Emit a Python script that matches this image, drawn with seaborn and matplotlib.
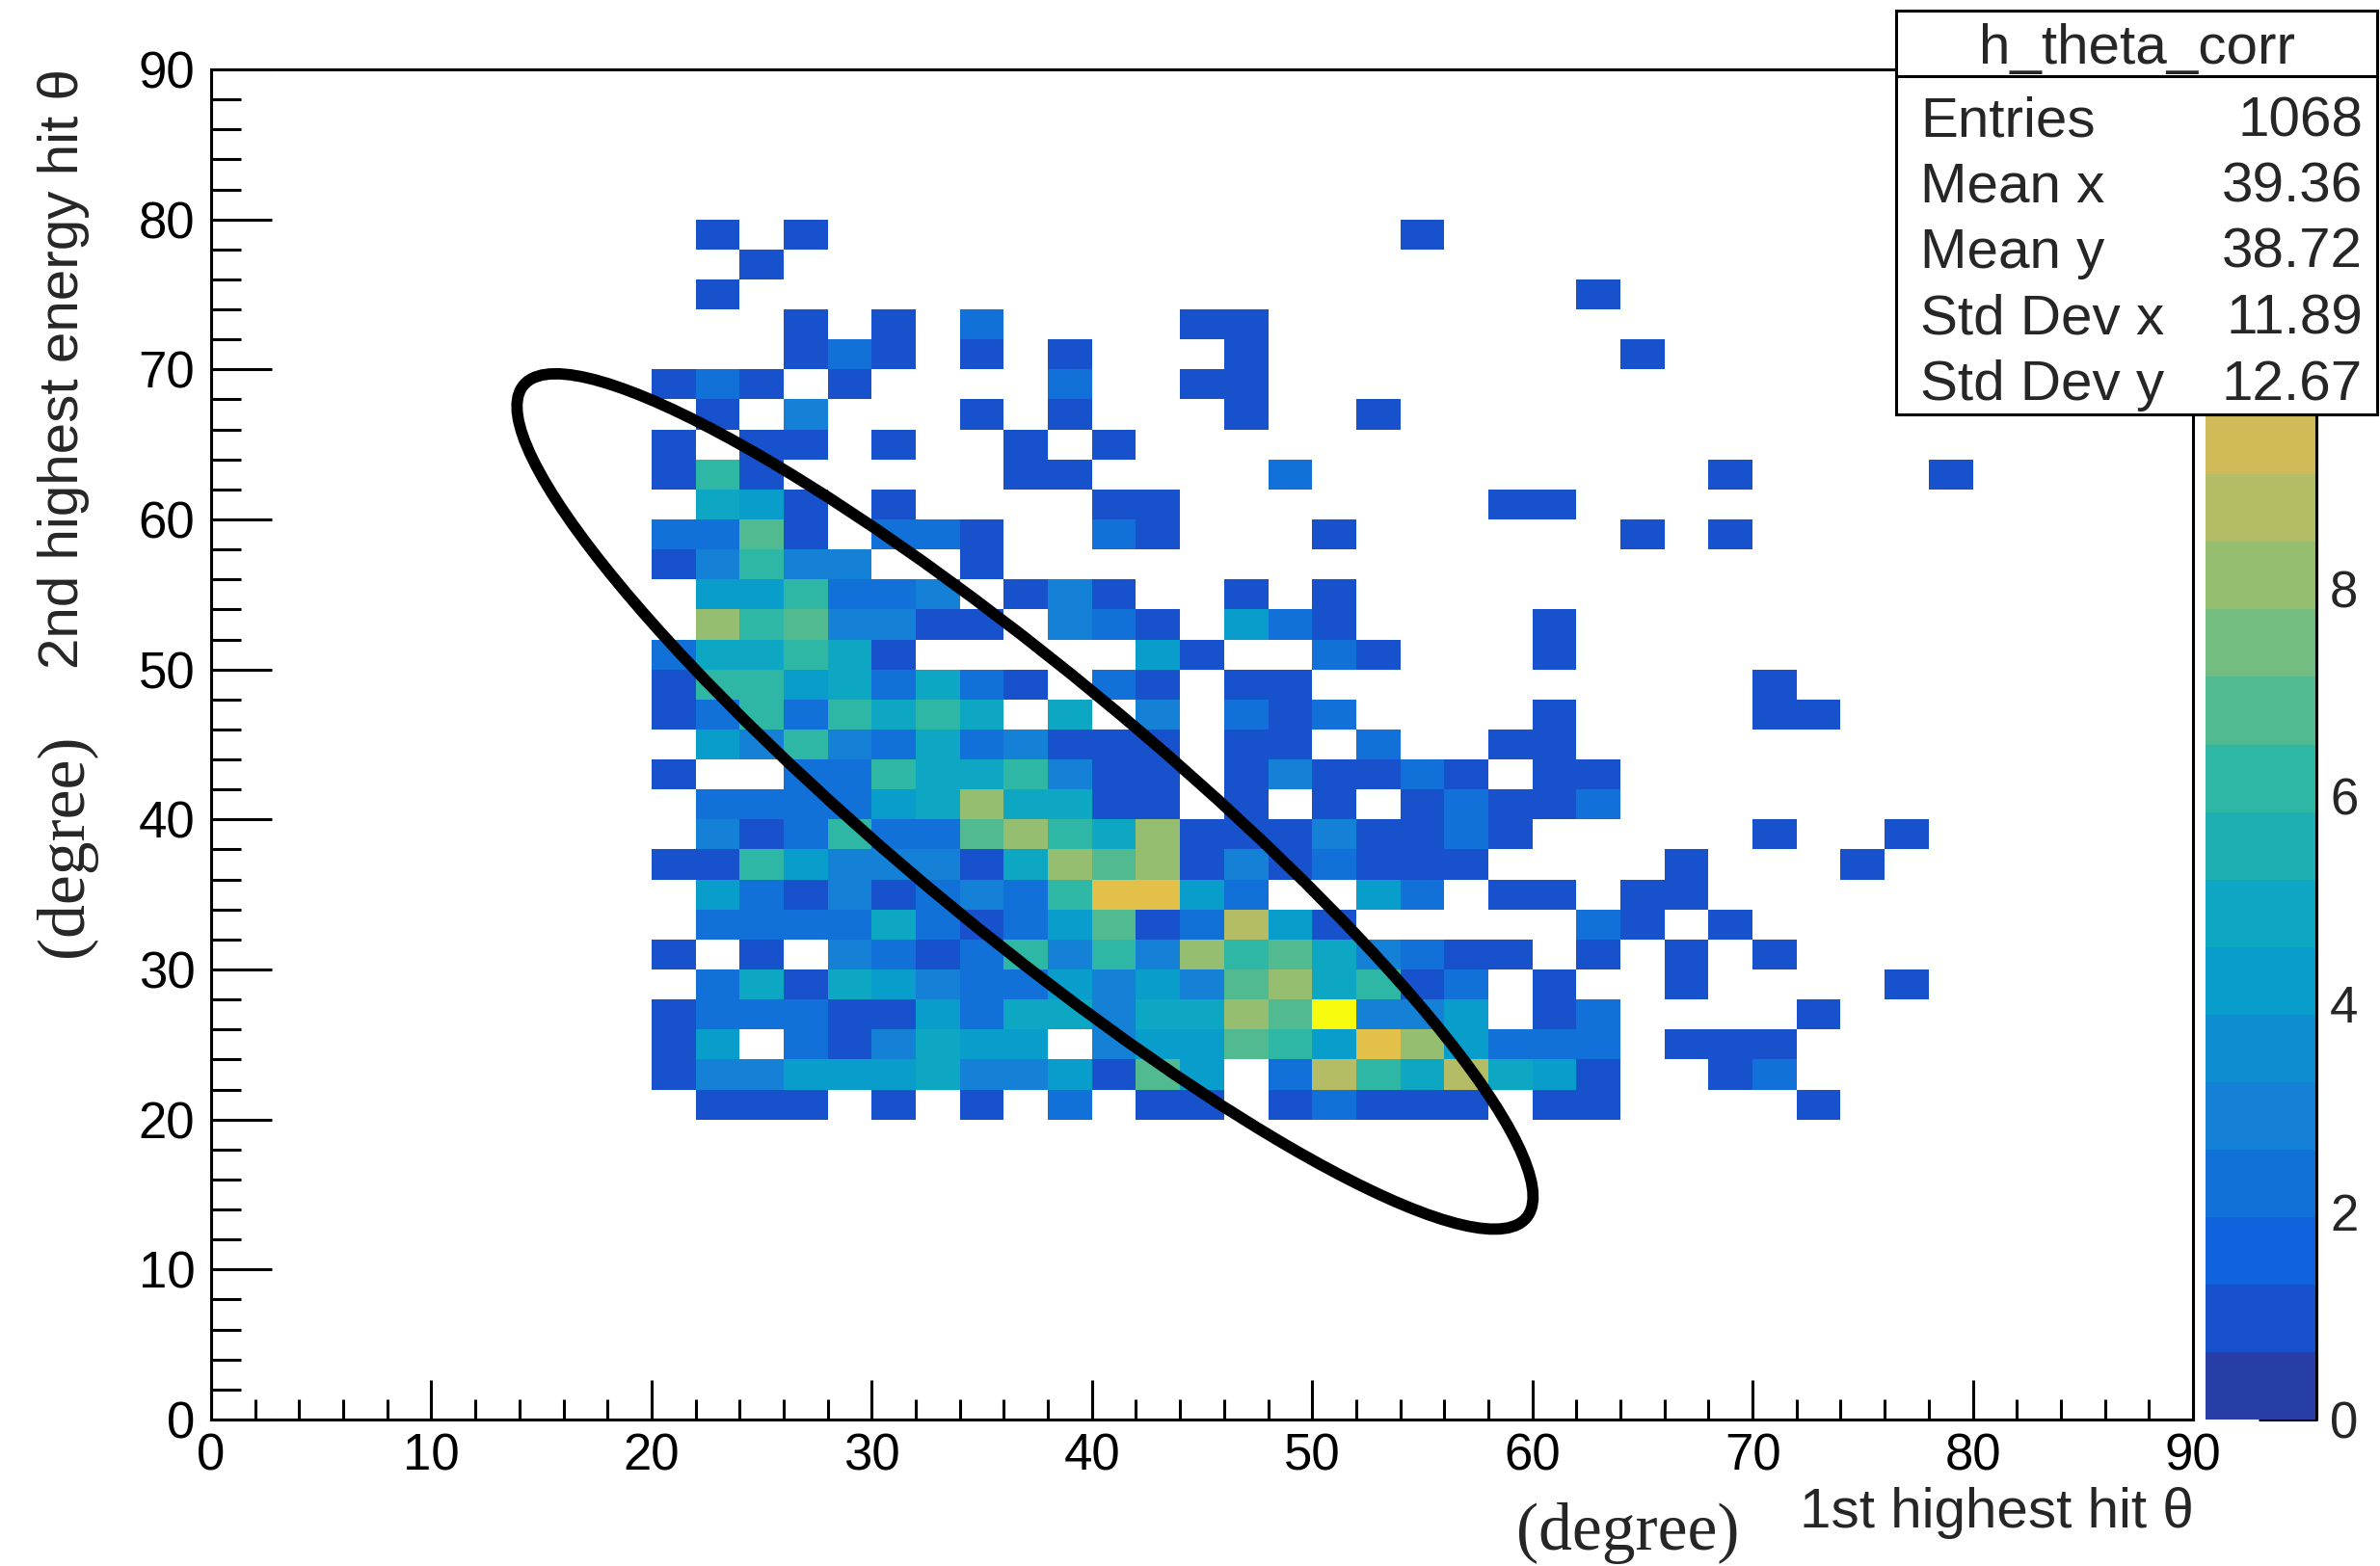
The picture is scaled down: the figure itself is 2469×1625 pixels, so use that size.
import numpy as np
import pandas as pd
import matplotlib
matplotlib.use("Agg")
import matplotlib.pyplot as plt
from matplotlib.colors import ListedColormap
from matplotlib.patches import Ellipse, Rectangle
from matplotlib.lines import Line2D
from matplotlib.ticker import MultipleLocator
from matplotlib.collections import QuadMesh
import seaborn as sns

BIN_WIDTH = 2  # degrees per cell on both axes

# theta2 rows (lower bin edge, deg), the occupied theta1 cells in each row
# (lower bin edge, deg) and the number of entries in those cells
theta2_rows = [78, 76, 74, 72, 70, 68, 66, 64, 62, 60, 58, 56, 54, 52, 50, 48,
               46, 44, 42, 40, 38, 36, 34, 32, 30, 28, 26, 24, 22, 20]
theta1_cells = [
    [22, 26, 54],
    [24],
    [22, 62],
    [26, 30, 34, 44, 46],
    [26, 28, 30, 34, 38, 46, 64],
    [20, 22, 24, 28, 38, 44, 46],
    [22, 26, 34, 38, 46, 52],
    [20, 24, 26, 30, 36, 40],
    [20, 22, 24, 36, 38, 48, 68, 78],
    [22, 24, 26, 30, 40, 42, 58, 60],
    [20, 22, 24, 26, 30, 32, 34, 40, 42, 50, 64, 68],
    [20, 22, 24, 26, 28, 34],
    [22, 24, 26, 28, 30, 32, 36, 38, 40, 46, 50],
    [22, 24, 26, 28, 30, 32, 34, 38, 40, 42, 46, 48, 50, 60],
    [20, 22, 24, 26, 28, 30, 42, 44, 50, 52, 60],
    [20, 22, 24, 26, 28, 30, 32, 34, 36, 40, 42, 46, 48, 70],
    [20, 22, 24, 26, 28, 30, 32, 34, 38, 42, 46, 48, 50, 60, 70, 72],
    [22, 24, 26, 28, 30, 32, 34, 36, 38, 40, 42, 46, 48, 52, 58, 60],
    [20, 26, 28, 30, 32, 34, 36, 38, 40, 42, 46, 48, 50, 52, 54, 56, 60, 62],
    [22, 24, 26, 28, 30, 32, 34, 36, 38, 40, 42, 46, 50, 54, 56, 58, 60, 62],
    [22, 24, 26, 28, 30, 32, 34, 36, 38, 40, 42, 44, 46, 48, 50, 52, 54, 56, 58, 70, 76],
    [20, 22, 24, 26, 28, 30, 32, 34, 36, 38, 40, 42, 44, 46, 48, 50, 52, 54, 56, 66, 74],
    [22, 24, 26, 28, 30, 32, 34, 36, 38, 40, 42, 44, 46, 52, 54, 58, 60, 64, 66],
    [22, 24, 26, 28, 30, 32, 34, 36, 38, 40, 42, 44, 46, 48, 50, 62, 64, 68],
    [20, 24, 28, 30, 32, 34, 36, 38, 40, 42, 44, 46, 48, 50, 52, 54, 56, 58, 62, 66, 70],
    [22, 24, 26, 28, 30, 32, 34, 36, 38, 40, 42, 44, 46, 48, 50, 52, 54, 56, 60, 66, 76],
    [20, 22, 24, 26, 28, 30, 32, 34, 36, 38, 40, 42, 44, 46, 48, 50, 52, 54, 56, 60, 62, 72],
    [20, 22, 26, 28, 30, 32, 34, 36, 40, 42, 44, 46, 48, 50, 52, 54, 56, 58, 60, 62, 66, 68, 70],
    [20, 22, 24, 26, 28, 30, 32, 34, 36, 38, 40, 42, 44, 48, 50, 52, 54, 56, 58, 60, 62, 68, 70],
    [22, 24, 26, 30, 34, 38, 42, 44, 48, 50, 52, 54, 56, 60, 62, 72],
]
cell_entries = [
    [1, 1, 1],
    [1],
    [1, 1],
    [1, 1, 2, 1, 1],
    [1, 2, 1, 1, 1, 1, 1],
    [1, 2, 1, 1, 2, 1, 1],
    [1, 3, 1, 1, 1, 1],
    [1, 1, 1, 1, 1, 1],
    [1, 6, 1, 1, 1, 2, 1, 1],
    [5, 4, 1, 1, 1, 1, 1, 1],
    [2, 2, 7, 1, 2, 2, 1, 2, 1, 1, 1, 1],
    [1, 3, 6, 3, 3, 1],
    [4, 4, 6, 2, 2, 3, 1, 3, 1, 1, 1],
    [8, 6, 7, 3, 3, 1, 1, 3, 2, 1, 4, 2, 1, 1],
    [2, 5, 5, 6, 5, 1, 4, 1, 2, 1, 1],
    [1, 6, 6, 4, 5, 2, 5, 2, 1, 2, 1, 1, 1, 1],
    [1, 2, 6, 2, 6, 5, 6, 5, 5, 3, 2, 1, 2, 1, 1, 1],
    [4, 3, 6, 3, 2, 5, 2, 3, 1, 1, 1, 1, 1, 2, 1, 1],
    [1, 2, 2, 6, 5, 5, 6, 3, 1, 1, 1, 3, 1, 1, 2, 1, 1, 1],
    [2, 2, 2, 2, 4, 5, 8, 5, 5, 1, 1, 1, 1, 1, 2, 1, 1, 2],
    [3, 1, 2, 6, 2, 2, 7, 8, 6, 5, 8, 1, 1, 1, 3, 1, 1, 2, 1, 1, 1],
    [1, 1, 6, 4, 3, 3, 3, 1, 5, 8, 7, 8, 1, 3, 1, 2, 1, 1, 1, 1, 1],
    [4, 2, 1, 3, 1, 2, 3, 2, 6, 10, 10, 4, 2, 4, 2, 1, 1, 1, 1],
    [2, 2, 2, 2, 5, 2, 1, 2, 4, 7, 1, 2, 9, 4, 1, 2, 1, 1],
    [1, 1, 3, 2, 1, 2, 6, 3, 6, 3, 8, 6, 7, 5, 3, 2, 1, 1, 1, 1, 1],
    [2, 5, 1, 5, 4, 3, 2, 2, 4, 3, 4, 3, 7, 8, 5, 6, 1, 2, 1, 1, 1],
    [1, 2, 2, 2, 1, 1, 4, 2, 5, 5, 3, 5, 5, 8, 7, 13, 3, 3, 4, 1, 2, 1],
    [1, 4, 2, 1, 3, 5, 4, 4, 3, 4, 4, 7, 6, 4, 10, 8, 4, 2, 2, 2, 1, 1, 1],
    [1, 3, 3, 4, 4, 4, 5, 3, 3, 4, 1, 7, 4, 2, 9, 6, 5, 9, 5, 4, 1, 1, 2],
    [1, 1, 1, 1, 1, 2, 1, 1, 1, 2, 1, 1, 1, 1, 1, 1],
]

hist_name = "h_theta_corr"
stats_labels = ["Entries", "Mean x", "Mean y", "Std Dev x", "Std Dev y"]
stats_values = ["1068", "39.36", "38.72", "11.89", "12.67"]
z_max = 13
cbar_ticks = [0, 2, 4, 6, 8]

# ---------------------------------------------------------------------------
# one row per filled cell, placed at the cell centre and weighted by its entries
records = [
    (t1 + BIN_WIDTH / 2, t2 + BIN_WIDTH / 2, n)
    for t2, xs, ns in zip(theta2_rows, theta1_cells, cell_entries)
    for t1, n in zip(xs, ns)
]
df = pd.DataFrame(records, columns=["theta1", "theta2", "n"])

# "bird" palette sampled into 20 contour bands
bird_stops = [0.0, 0.125, 0.25, 0.375, 0.5, 0.625, 0.75, 0.875, 1.0]
bird_r = [0.2082, 0.0592, 0.0780, 0.0232, 0.1802, 0.5301, 0.8186, 0.9956, 0.9764]
bird_g = [0.1664, 0.3599, 0.5041, 0.6419, 0.7178, 0.7492, 0.7328, 0.7862, 0.9832]
bird_b = [0.5293, 0.8684, 0.8385, 0.7914, 0.6425, 0.4662, 0.3499, 0.1968, 0.0539]
n_bands, n_grad = 20, 255
band_pos = [int((i + 0.99) * n_grad / n_bands) / (n_grad - 1) for i in range(n_bands)]
band_rgb = np.column_stack([np.interp(band_pos, bird_stops, c) for c in (bird_r, bird_g, bird_b)])
cmap = ListedColormap(band_rgb)

sns.set_style("white")
plt.rcParams["font.family"] = ["Liberation Sans", "DejaVu Sans"]

W, H = 2469, 1625
fig = plt.figure(figsize=(W / 100, H / 100), dpi=100)
fig.patch.set_facecolor("white")


def fx(px):
    return px / W


def fy(py):
    return 1 - py / H


ax = fig.add_axes([fx(219), fy(1473), fx(2275) - fx(219), fy(72) - fy(1473)])
sns.histplot(
    data=df, x="theta1", y="theta2", weights="n",
    bins=45, binrange=((0, 90), (0, 90)),
    cmap=cmap, vmin=0, vmax=z_max, cbar=False, ax=ax,
)
mesh = [c for c in ax.collections if isinstance(c, QuadMesh)][0]

ax.set_xlim(0, 90)
ax.set_ylim(0, 90)
ax.set_xlabel("")
ax.set_ylabel("")
ax.set_facecolor("white")
ax.grid(False)
for axis in (ax.xaxis, ax.yaxis):
    axis.set_major_locator(MultipleLocator(10))
    axis.set_minor_locator(MultipleLocator(2))
ax.tick_params(axis="both", which="both", direction="in", top=False, right=False,
               bottom=True, left=True, width=2.2, color="black", labelsize=38,
               labelcolor="black")
ax.tick_params(axis="y", which="major", length=45, pad=12)
ax.tick_params(axis="y", which="minor", length=22)
ax.tick_params(axis="x", which="major", length=29.5, pad=10)
ax.tick_params(axis="x", which="minor", length=15)
for s in ax.spines.values():
    s.set_visible(True)
    s.set_linewidth(2.2)
    s.set_color("black")

# selection ellipse drawn in data coordinates
ax.add_patch(Ellipse((36.96, 41.2), width=72.0, height=14.0, angle=-51.5,
                     fill=False, edgecolor="black", lw=8.5, zorder=5))

# palette axis
cax = fig.add_axes([fx(2288), fy(1473), fx(2403) - fx(2288), fy(72) - fy(1473)])
cb = fig.colorbar(mesh, cax=cax, ticks=cbar_ticks)
cb.outline.set_visible(False)
cax.tick_params(direction="in", length=43, width=2.2, labelsize=38, pad=10,
                right=True, left=False, labelright=True, labelleft=False,
                color="black")
cax.minorticks_off()
cax.add_line(Line2D([1, 1], [0, 1], transform=cax.transAxes, color="black",
                    lw=2.2, clip_on=False))

# axis titles
fig.text(fx(2276), fy(1570), "1st highest hit θ", ha="right", va="center", fontsize=42)
fig.text(fx(1689), fy(1591), "(degree)", ha="center", va="center", fontsize=50,
         family=["Liberation Serif", "DejaVu Serif"])
fig.text(fx(66), fy(71), "2nd highest energy hit θ", ha="center", va="top",
         rotation=90, fontsize=42)
fig.text(fx(68), fy(877), "(degree)", ha="center", va="center", rotation=90,
         fontsize=50, family=["Liberation Serif", "DejaVu Serif"])

# statistics box
fig.add_artist(Rectangle((fx(1967), fy(430)), fx(2466) - fx(1967), fy(11) - fy(430),
                         transform=fig.transFigure, facecolor="white",
                         edgecolor="black", lw=2.2, zorder=10))
fig.add_artist(Line2D([fx(1967), fx(2466)], [fy(79), fy(79)], transform=fig.transFigure,
                      color="black", lw=2.2, zorder=11))
fig.text(fx(2217), fy(66), hist_name, ha="center", va="baseline", fontsize=42, zorder=12)
for i, (lab, val) in enumerate(zip(stats_labels, stats_values)):
    yb = fy(141 + i * 68.5)
    fig.text(fx(1992), yb, lab, ha="left", va="baseline", fontsize=42, zorder=12)
    fig.text(fx(2451), yb, val, ha="right", va="baseline", fontsize=42, zorder=12)

fig.savefig("out.png", dpi=100, facecolor="white")
